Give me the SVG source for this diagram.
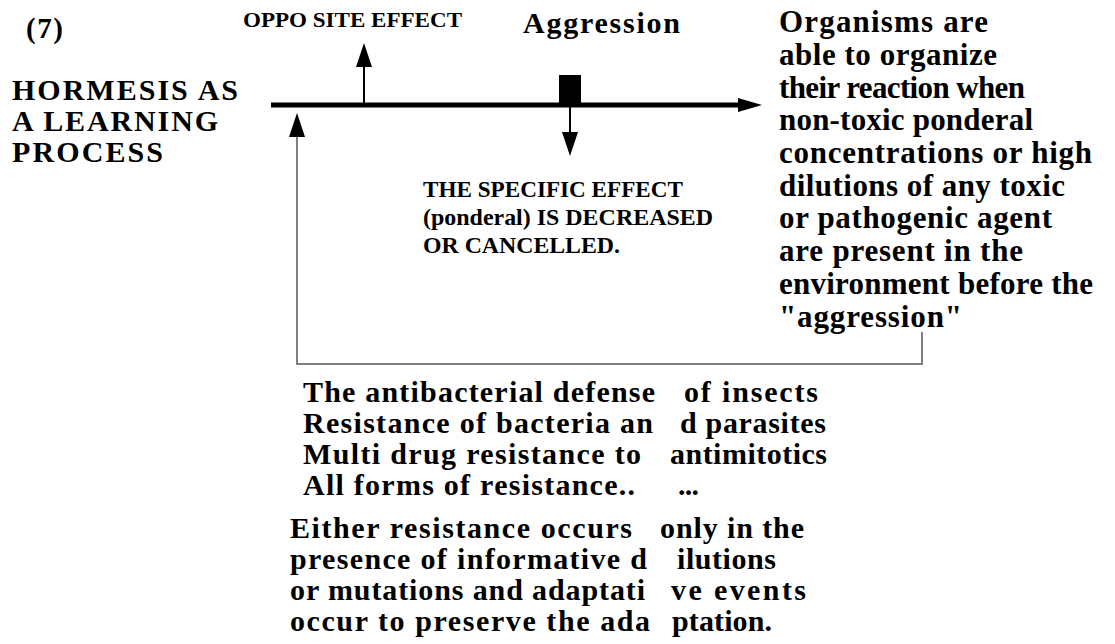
<svg xmlns="http://www.w3.org/2000/svg" width="1115" height="644" viewBox="0 0 1115 644">
<style>
text{font-family:'Liberation Serif','Times New Roman',serif;font-weight:700;fill:#000}
.big{font-size:30px}
.bot{font-size:30px}
.mid{font-size:31px}
.sm{font-size:23px}
.lbl{font-size:21px}
.blk{stroke:#000;fill:none}
.gry{stroke:#808080;fill:none;stroke-width:2}
</style>
<defs>
<marker id="head" markerUnits="userSpaceOnUse" markerWidth="24" markerHeight="16" refX="0" refY="8" orient="auto" overflow="visible">
<path d="M0,0 L24,8 L0,16 Z" fill="#000"/>
</marker>
<marker id="mainhead" markerUnits="userSpaceOnUse" markerWidth="24" markerHeight="14" refX="0" refY="7" orient="auto" overflow="visible">
<path d="M0,0 L24,7 L0,14 Z" fill="#000"/>
</marker>
</defs>
<rect width="1115" height="644" fill="#fff"/>

<g id="connectors">
<path id="feedback" class="gry" d="M922,332 V364 H297 V137" marker-end="url(#head)"/>
<path id="timeline" class="blk" stroke-width="5" d="M271,105 H738" marker-end="url(#mainhead)"/>
<path id="opposite-arrow" class="blk" stroke-width="2" d="M364,105 V67" marker-end="url(#head)"/>
<path id="specific-arrow" class="blk" stroke-width="2" d="M570,105 V132" marker-end="url(#head)"/>
</g>

<g id="number">
<text x="26" y="38" font-size="29" textLength="37" lengthAdjust="spacing">(7)</text>
</g>

<g id="title">
<text class="big" x="12" y="100" textLength="226" lengthAdjust="spacing">HORMESIS AS</text>
<text class="big" x="12" y="131" textLength="206" lengthAdjust="spacing">A LEARNING</text>
<text class="big" x="12" y="162" textLength="151" lengthAdjust="spacing">PROCESS</text>
</g>

<g id="opposite-effect">
<text class="lbl" x="243" y="27" textLength="219" lengthAdjust="spacingAndGlyphs">OPPO SITE EFFECT</text>
</g>

<g id="aggression">
<text x="523" y="33" font-size="30" textLength="157" lengthAdjust="spacing">Aggression</text>
<rect x="559" y="75" width="22" height="30" fill="#000"/>
</g>

<g id="specific-effect">
<text class="sm" x="423" y="197" textLength="260" lengthAdjust="spacingAndGlyphs">THE SPECIFIC EFFECT</text>
<text class="sm" x="423" y="225" textLength="290" lengthAdjust="spacingAndGlyphs">(ponderal) IS DECREASED</text>
<text class="sm" x="423" y="253" textLength="197" lengthAdjust="spacingAndGlyphs">OR CANCELLED.</text>
</g>

<g id="organisms">
<text class="mid" x="779" y="32" textLength="209" lengthAdjust="spacing">Organisms are</text>
<text class="mid" x="779" y="65" textLength="218" lengthAdjust="spacing">able to organize</text>
<text class="mid" x="779" y="98" textLength="246" lengthAdjust="spacing">their reaction when</text>
<text class="mid" x="779" y="130" textLength="254" lengthAdjust="spacing">non-toxic ponderal</text>
<text class="mid" x="779" y="163" textLength="313" lengthAdjust="spacing">concentrations or high</text>
<text class="mid" x="779" y="196" textLength="286" lengthAdjust="spacing">dilutions of any toxic</text>
<text class="mid" x="779" y="228" textLength="273" lengthAdjust="spacing">or pathogenic agent</text>
<text class="mid" x="779" y="261" textLength="244" lengthAdjust="spacing">are present in the</text>
<text class="mid" x="779" y="294" textLength="314" lengthAdjust="spacing">environment before the</text>
<text class="mid" x="779" y="327" textLength="183" lengthAdjust="spacing">"aggression"</text>
</g>

<g id="examples">
<text class="bot" x="303" y="402" textLength="352" lengthAdjust="spacing">The antibacterial defense</text>
<text class="bot" x="684" y="402" textLength="134" lengthAdjust="spacing">of insects</text>
<text class="bot" x="303" y="433" textLength="350" lengthAdjust="spacing">Resistance of bacteria an</text>
<text class="bot" x="680" y="433" textLength="146" lengthAdjust="spacing">d parasites</text>
<text class="bot" x="303" y="464" textLength="338" lengthAdjust="spacing">Multi drug resistance to</text>
<text class="bot" x="670" y="464" textLength="157" lengthAdjust="spacing">antimitotics</text>
<text class="bot" x="303" y="495" textLength="332" lengthAdjust="spacing">All forms of resistance..</text>
<text class="bot" x="678" y="495" textLength="21" lengthAdjust="spacing">...</text>
</g>

<g id="conclusion">
<text class="bot" x="290" y="538" textLength="342" lengthAdjust="spacing">Either resistance occurs</text>
<text class="bot" x="660" y="538" textLength="144" lengthAdjust="spacing">only in the</text>
<text class="bot" x="290" y="569" textLength="357" lengthAdjust="spacing">presence of informative d</text>
<text class="bot" x="677" y="569" textLength="99" lengthAdjust="spacing">ilutions</text>
<text class="bot" x="290" y="600" textLength="355" lengthAdjust="spacing">or mutations and adaptati</text>
<text class="bot" x="671" y="600" textLength="135" lengthAdjust="spacing">ve events</text>
<text class="bot" x="290" y="631" textLength="360" lengthAdjust="spacing">occur to preserve the ada</text>
<text class="bot" x="672" y="631" textLength="100" lengthAdjust="spacing">ptation.</text>
</g>
</svg>
